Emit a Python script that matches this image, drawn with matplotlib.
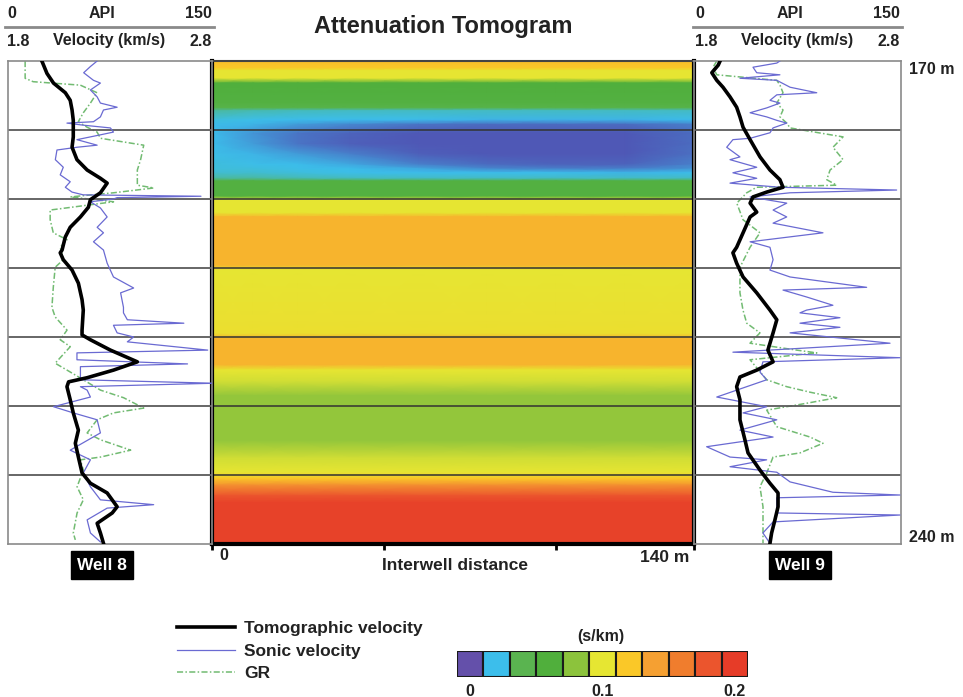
import numpy as np
import matplotlib
matplotlib.use('Agg')
import matplotlib.pyplot as plt
from matplotlib.colors import LinearSegmentedColormap
from matplotlib.lines import Line2D

plt.rcParams['font.family'] = ['Liberation Sans', 'DejaVu Sans']
plt.rcParams['font.weight'] = 'bold'

# ---- data ----
grid_depths = [180, 190, 200, 210, 220, 230]

# attenuation colour scale (s/km)
cbar_values = [0, 0.02, 0.04, 0.06, 0.08, 0.1, 0.12, 0.14, 0.16, 0.18, 0.2]
cbar_colors = ['#6450aa', '#3cbeeb', '#5ab450', '#50af3c', '#8cc33c', '#e6e632',
               '#fac828', '#f5a032', '#f07d2d', '#eb552d', '#e63c28']
# the tomogram itself renders the lowest class a bit bluer
tomo_colors = ['#4f58b6'] + cbar_colors[1:]

# tomogram: layered part above and below the low-attenuation lens
depth_upper = [170.0, 171.0, 171.4, 172.5, 173.2, 176.0, 176.8]
atten_upper = [0.125, 0.12, 0.10, 0.10, 0.06, 0.055, 0.045]
depth_lower = [187.4, 189.6, 190.2, 192.0, 192.6, 199.6, 200.3, 209.5, 210.2, 214.0,
               214.8, 216.5, 218.5, 225.0, 227.5, 229.6, 230.5, 231.5, 233.0, 234.0, 240.0]
atten_lower = [0.055, 0.055, 0.10, 0.10, 0.13, 0.13, 0.10, 0.105, 0.13, 0.13,
               0.10, 0.095, 0.082, 0.082, 0.095, 0.10, 0.12, 0.15, 0.18, 0.195, 0.195]
# lens zone (depth rows x interwell distance columns)
lens_dist = [0, 12, 25, 40, 60, 80, 100, 120, 140]
lens_depth = [177.2, 178.5, 179.2, 180.5, 182.0, 183.5, 185.0, 185.6, 186.2, 187.0]
lens_atten = [
    [0.030, 0.028, 0.026, 0.025, 0.025, 0.025, 0.025, 0.025, 0.025],
    [0.022, 0.021, 0.020, 0.020, 0.020, 0.018, 0.018, 0.018, 0.020],
    [0.020, 0.018, 0.014, 0.010, 0.006, 0.004, 0.004, 0.004, 0.008],
    [0.020, 0.012, 0.006, 0.003, 0.000, 0.000, 0.000, 0.000, 0.004],
    [0.020, 0.014, 0.006, 0.002, 0.000, 0.000, 0.000, 0.000, 0.004],
    [0.021, 0.018, 0.014, 0.008, 0.002, 0.000, 0.000, 0.000, 0.005],
    [0.022, 0.021, 0.020, 0.016, 0.008, 0.004, 0.003, 0.003, 0.008],
    [0.022, 0.022, 0.021, 0.020, 0.016, 0.010, 0.008, 0.008, 0.012],
    [0.024, 0.024, 0.022, 0.021, 0.020, 0.020, 0.020, 0.018, 0.020],
    [0.030, 0.030, 0.028, 0.026, 0.025, 0.025, 0.025, 0.025, 0.025],
]

# Well 8
w8_tomo_depth = [170.0, 171.8, 173.2, 174.6, 175.7, 177.1, 178.6, 181.0, 182.5, 184.3, 185.8, 187.0,
                 187.7, 189.1, 190.1, 191.2, 192.6, 194.1, 195.5, 197.4, 197.8, 198.8, 200.3, 202.2,
                 204.6, 206.1, 209.0, 209.7, 210.4, 211.9, 213.6, 214.8, 215.9, 216.5, 217.2, 219.1,
                 221.0, 223.5, 225.4, 227.4, 229.7, 231.2, 232.6, 234.6, 235.5, 237.0, 238.4, 239.9]
w8_tomo_vel = [1.966, 1.991, 2.023, 2.081, 2.105, 2.114, 2.120, 2.120, 2.114, 2.138, 2.188, 2.253,
               2.286, 2.253, 2.204, 2.194, 2.155, 2.105, 2.081, 2.065, 2.056, 2.071, 2.114, 2.145,
               2.163, 2.169, 2.163, 2.163, 2.204, 2.302, 2.434, 2.317, 2.188, 2.097, 2.089, 2.105,
               2.120, 2.145, 2.130, 2.145, 2.163, 2.204, 2.286, 2.335, 2.311, 2.237, 2.253, 2.268]
w8_sonic_depth = [170.0, 170.8, 171.7, 172.8, 173.2, 174.2, 175.2, 176.1, 176.7, 177.1, 178.1, 178.8,
                  179.0, 179.3, 179.7, 180.3, 180.7, 181.4, 182.2, 182.5, 182.9, 184.3, 185.4, 186.5,
                  187.5, 188.3, 189.0, 189.4, 189.6, 189.8, 190.0, 190.4, 191.3, 192.6, 194.1, 194.9,
                  196.2, 197.4, 199.3, 201.3, 202.9, 203.6, 205.7, 206.5, 207.5, 208.0, 208.3, 209.4,
                  210.0, 210.7, 211.9, 212.3, 213.3, 213.9, 214.3, 216.2, 216.7, 217.2, 217.7, 218.7,
                  220.1, 221.0, 222.0, 223.9, 226.4, 227.8, 229.7, 231.7, 233.6, 234.3, 234.8, 236.5,
                  238.4, 239.7]
w8_sonic_vel = [2.237, 2.204, 2.171, 2.219, 2.253, 2.204, 2.237, 2.253, 2.335, 2.268, 2.253, 2.219,
                2.089, 2.169, 2.302, 2.317, 2.253, 2.138, 2.237, 2.138, 2.040, 2.032, 2.071, 2.056,
                2.105, 2.081, 2.114, 2.169, 2.746, 2.335, 2.317, 2.204, 2.253, 2.286, 2.237, 2.268,
                2.219, 2.268, 2.286, 2.317, 2.416, 2.352, 2.366, 2.366, 2.385, 2.662, 2.317, 2.335,
                2.416, 2.385, 2.779, 2.138, 2.138, 2.680, 2.155, 2.155, 2.810, 2.155, 2.188, 2.204,
                2.023, 2.120, 2.237, 2.253, 2.105, 2.204, 2.169, 2.204, 2.253, 2.514, 2.286, 2.188,
                2.204, 2.253]
w8_gr_depth = [170.0, 172.5, 173.0, 173.5, 174.6, 176.1, 177.5, 178.8, 179.6, 180.3, 181.2, 182.2,
               184.3, 185.8, 188.0, 188.4, 189.1, 189.7, 190.4, 191.6, 193.0, 194.9, 195.9, 197.0,
               198.8, 199.9, 202.8, 205.7, 207.1, 209.0, 210.4, 211.4, 213.8, 214.8, 216.2, 217.7,
               218.8, 220.3, 221.0, 222.0, 223.9, 224.9, 226.4, 227.4, 227.8, 229.3, 231.7, 233.6,
               235.5, 238.4, 239.4]
w8_gr_api = [12.6, 12.6, 18.5, 53.2, 65.5, 60.6, 55.4, 51.7, 58.2, 65.5, 68.0, 99.8,
             97.5, 95.1, 95.1, 107.2, 77.6, 45.8, 77.6, 31.0, 31.0, 33.3, 43.4, 38.4,
             40.6, 34.7, 33.3, 32.3, 34.7, 43.4, 38.4, 45.8, 34.7, 43.4, 55.4, 68.0,
             85.0, 99.8, 77.6, 65.5, 58.2, 68.0, 90.2, 68.0, 53.2, 55.4, 50.8, 55.4,
             50.8, 48.0, 49.5]

# Well 9
w9_tomo_depth = [170.0, 170.6, 171.7, 172.8, 173.8, 175.2, 176.7, 178.1, 179.6, 181.4, 183.9, 185.8,
                 187.2, 188.3, 189.0, 189.7, 190.6, 191.9, 192.6, 194.9, 197.0, 197.8, 199.3, 201.3,
                 203.6, 206.1, 207.5, 209.4, 211.9, 213.6, 214.8, 215.8, 217.2, 219.1, 222.0, 224.9,
                 226.8, 229.3, 231.2, 232.6, 234.6, 236.5, 238.4, 239.9]
w9_tomo_vel = [1.926, 1.917, 1.886, 1.910, 1.940, 1.974, 2.006, 2.022, 2.037, 2.071, 2.119, 2.167,
               2.215, 2.230, 2.151, 2.085, 2.071, 2.103, 2.071, 2.037, 2.006, 1.988, 2.006, 2.037,
               2.103, 2.167, 2.200, 2.182, 2.157, 2.182, 2.103, 2.022, 2.006, 2.022, 2.022, 2.046,
               2.061, 2.119, 2.167, 2.206, 2.206, 2.191, 2.175, 2.167]
w9_sonic_depth = [170.0, 170.3, 170.9, 171.7, 172.0, 172.5, 172.8, 173.8, 174.6, 174.9, 175.7, 176.1,
                  176.8, 177.5, 178.1, 178.6, 179.0, 179.7, 180.4, 181.2, 181.4, 182.5, 183.9, 184.3,
                  185.4, 186.2, 187.0, 187.7, 188.3, 188.7, 189.1, 189.7, 190.6, 191.6, 192.6, 193.5,
                  194.9, 196.2, 197.0, 198.8, 200.3, 201.3, 202.8, 203.2, 204.2, 205.4, 206.1, 206.5,
                  207.2, 208.0, 208.6, 209.4, 210.9, 212.2, 213.0, 213.6, 215.1, 216.2, 218.7, 220.1,
                  221.0, 222.0, 223.5, 224.5, 225.9, 227.4, 227.8, 228.8, 229.6, 231.0, 232.5, 232.9,
                  233.3, 235.5, 235.8, 236.8, 238.4, 239.9]
w9_sonic_vel = [2.215, 2.200, 2.085, 2.103, 2.215, 2.022, 2.200, 2.264, 2.393, 2.200, 2.167, 2.215,
                2.151, 2.071, 2.151, 2.200, 2.248, 2.182, 2.167, 2.071, 1.988, 1.958, 2.022, 1.974,
                2.103, 1.988, 2.103, 1.974, 2.215, 2.779, 2.264, 2.071, 2.248, 2.182, 2.248, 2.182,
                2.423, 2.071, 2.167, 2.182, 2.167, 2.264, 2.634, 2.230, 2.344, 2.471, 2.344, 2.312,
                2.505, 2.312, 2.505, 2.264, 2.747, 1.988, 2.795, 2.133, 2.119, 2.151, 1.910, 2.151,
                2.037, 2.200, 2.022, 2.182, 1.861, 1.974, 2.151, 1.974, 2.200, 2.264, 2.471, 2.795,
                2.200, 2.200, 2.795, 2.182, 2.133, 2.167]
w9_gr_depth = [170.0, 170.9, 172.0, 172.8, 173.5, 174.6, 176.1, 177.1, 178.1, 179.0, 179.7, 181.0,
               182.5, 184.3, 185.8, 187.2, 188.0, 188.3, 189.1, 190.6, 193.0, 194.9, 197.0, 199.9,
               203.6, 206.1, 208.0, 209.4, 210.9, 211.9, 212.3, 213.3, 216.2, 217.2, 218.0, 218.8,
               219.6, 220.6, 223.0, 224.5, 225.4, 226.8, 227.4, 229.7, 231.7, 234.6, 237.5, 239.9]
w9_gr_api = [16.5, 13.8, 16.5, 60.0, 62.3, 64.5, 60.0, 64.5, 62.3, 67.2, 69.6, 108.0,
             100.7, 108.0, 98.6, 96.2, 103.4, 45.4, 38.2, 31.0, 35.5, 47.8, 40.6, 33.3,
             33.3, 35.5, 38.2, 47.8, 40.6, 74.4, 89.0, 40.6, 52.7, 67.2, 84.1, 103.4,
             81.7, 52.7, 60.0, 84.1, 93.5, 76.8, 57.3, 52.7, 47.8, 50.0, 50.0, 50.0]

# ---- figure ----
W, H = 963, 697
fig = plt.figure(figsize=(9.63, 6.97), dpi=100)
TXT = '#222222'


def fx(x):
    return x / W


def fy(y):
    return 1 - y / H


def box(x0, y0, x1, y1):
    return [fx(x0), fy(y1), (x1 - x0) / W, (y1 - y0) / H]


def draw_well(rect, tomo_d, tomo_v, son_d, son_v, gr_d, gr_api):
    ax = fig.add_axes(rect)
    gx = ax.twiny()
    ax.set_zorder(gx.get_zorder() + 1)
    ax.patch.set_visible(False)
    gx.set_xlim(0, 150)
    gx.set_ylim(240, 170)
    gr, = gx.plot(gr_api, gr_d, color='#72bb72', lw=1.1, ls=(0, (4, 1.5, 1, 1.5)))
    gx.axis('off')
    ax.set_xlim(1.8, 2.8)
    ax.set_ylim(240, 170)
    for d in grid_depths:
        ax.axhline(d, color='#5a5a5a', lw=1.3, zorder=1)
    son, = ax.plot(son_v, son_d, color='#6a6ad2', lw=0.9, zorder=3)
    tomo, = ax.plot(tomo_v, tomo_d, color='black', lw=2.6, zorder=4)
    ax.set_xticks([])
    ax.set_yticks([])
    for s in ax.spines.values():
        s.set_color('#8a8a8a')
        s.set_linewidth(1.2)
    return tomo, son, gr


def header(x0, x1):
    fs = 11.5
    fig.text(fx(x0), fy(14), '0', ha='left', va='center', fontsize=fs, color=TXT)
    fig.text(fx((x0 + x1) / 2 - 8), fy(14), 'API', ha='center', va='center', fontsize=fs, color=TXT)
    fig.text(fx(x1), fy(14), '150', ha='right', va='center', fontsize=fs, color=TXT)
    fig.add_artist(Line2D([fx(x0 - 2), fx(x1 + 2)], [fy(27), fy(27)], color='#8a8a8a', lw=2))
    fig.text(fx(x0), fy(42), '1.8', ha='left', va='center', fontsize=fs, color=TXT)
    fig.text(fx((x0 + x1) / 2), fy(41), 'Velocity (km/s)', ha='center', va='center', fontsize=fs, color=TXT)
    fig.text(fx(x1), fy(42), '2.8', ha='right', va='center', fontsize=fs, color=TXT)


handles = draw_well(box(8, 61, 212, 544), w8_tomo_depth, w8_tomo_vel, w8_sonic_depth, w8_sonic_vel,
                    w8_gr_depth, w8_gr_api)
draw_well(box(694, 61, 901, 544), w9_tomo_depth, w9_tomo_vel, w9_sonic_depth, w9_sonic_vel,
          w9_gr_depth, w9_gr_api)
header(7, 212)
header(695, 900)

# tomogram
cmap = LinearSegmentedColormap.from_list('atten', tomo_colors)
depths = np.concatenate([depth_upper, lens_depth, depth_lower])
ncol = len(lens_dist)
grid = np.vstack([np.tile(np.array(atten_upper)[:, None], (1, ncol)),
                  np.array(lens_atten),
                  np.tile(np.array(atten_lower)[:, None], (1, ncol))])
tx = fig.add_axes(box(212, 61, 694, 544))
tx.pcolormesh(lens_dist, depths, grid, cmap=cmap, vmin=0, vmax=0.2, shading='gouraud')
tx.set_xlim(0, 140)
tx.set_ylim(240, 170)
for d in grid_depths:
    tx.axhline(d, color='#333333', lw=1.3, alpha=0.85)
tx.set_yticks([])
tx.set_xticks([0, 50, 100, 140])
tx.set_xticklabels([])
tx.tick_params(axis='x', length=4, width=2, direction='out', color='black')
for side in ['left', 'right', 'bottom']:
    tx.spines[side].set_linewidth(3)
    tx.spines[side].set_color('black')
tx.spines['top'].set_linewidth(1.5)
tx.spines['top'].set_color('#444444')

fig.text(fx(443), fy(27), 'Attenuation Tomogram', ha='center', va='center', fontsize=17, color=TXT)
fig.text(fx(909), fy(70), '170 m', ha='left', va='center', fontsize=11.5, color=TXT)
fig.text(fx(909), fy(537), '240 m', ha='left', va='center', fontsize=11.5, color=TXT)
fig.text(fx(224), fy(555), '0', ha='center', va='center', fontsize=11.5, color=TXT)
fig.text(fx(455), fy(565), 'Interwell distance', ha='center', va='center', fontsize=12.5, color=TXT)
fig.text(fx(665), fy(558), '140 m', ha='center', va='center', fontsize=12.5, color=TXT)
for label, xc in [('Well 8', 102), ('Well 9', 800)]:
    fig.text(fx(xc), fy(565), label, ha='center', va='center', fontsize=12.5, color='white',
             bbox=dict(facecolor='black', edgecolor='black', boxstyle='square,pad=0.35'))

# legend
fig.legend(handles=list(handles), labels=['Tomographic velocity', 'Sonic velocity', 'GR'],
           loc='center left', bbox_to_anchor=(fx(168), fy(651)), frameon=False,
           fontsize=12.5, handlelength=3.35, handletextpad=0.55, labelspacing=0.42, borderpad=0,
           labelcolor=TXT)

# colour scale
cx = fig.add_axes(box(457, 651, 748, 677))
cx.bar(cbar_values, 1, width=0.02, color=cbar_colors, edgecolor='#1a1a1a', linewidth=1.5)
cx.set_xlim(-0.01, 0.21)
cx.set_ylim(0, 1)
cx.set_yticks([])
cx.set_xticks([0, 0.1, 0.2])
cx.set_xticklabels(['0', '0.1', '0.2'], fontsize=11.5, color=TXT)
cx.tick_params(axis='x', length=0, pad=5)
for s in cx.spines.values():
    s.set_visible(False)
fig.text(fx(601), fy(636), '(s/km)', ha='center', va='center', fontsize=11.5, color=TXT)

fig.savefig('out.png', dpi=100)
